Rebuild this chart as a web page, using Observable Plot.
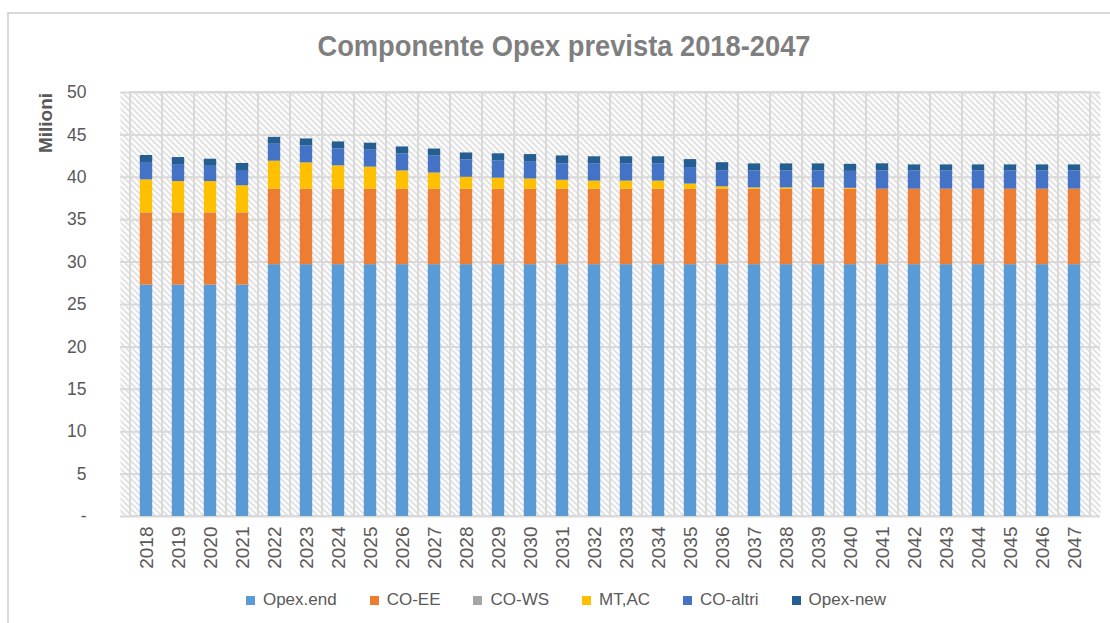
<!DOCTYPE html>
<html><head><meta charset="utf-8">
<script src="https://cdn.jsdelivr.net/npm/d3@7"></script>
<script src="https://cdn.jsdelivr.net/npm/@observablehq/plot@0.6"></script>
<style>
body{margin:0;background:#fff;}
#wrap{position:relative;width:1110px;height:623px;overflow:hidden;font-family:"Liberation Sans",Arial,sans-serif;color:#595959;}
#border{position:absolute;left:7px;top:12px;width:1200px;height:700px;border:2px solid #d9d9d9;box-sizing:border-box;}
#chart{position:absolute;left:0;top:0;}
#title{position:absolute;left:0;width:1128px;top:29px;text-align:center;font-weight:bold;font-size:30px;line-height:34px;color:#7f7f7f;transform:scaleX(0.91);transform-origin:564px 0;}
#ylab{position:absolute;left:46px;top:123px;transform:translate(-50%,-50%) rotate(-90deg);font-weight:bold;font-size:19px;color:#595959;white-space:nowrap;}
#legend{position:absolute;left:0;width:1132px;top:590px;display:flex;justify-content:center;gap:33px;font-size:17px;line-height:20px;color:#595959;}
.item{display:flex;align-items:center;gap:8px;}
.sw{width:9px;height:9px;display:inline-block;}
</style>
</head><body>
<div id="wrap">
  <div id="border"></div>
  <div id="chart"></div>
  <div id="title">Componente Opex prevista 2018-2047</div>
  <div id="ylab">Milioni</div>
  <div id="legend"></div>
</div>
<script>
const years = ["2018","2019","2020","2021","2022","2023","2024","2025","2026","2027","2028","2029","2030","2031","2032","2033","2034","2035","2036","2037","2038","2039","2040","2041","2042","2043","2044","2045","2046","2047"];
const opexEnd = [27.3,27.3,27.3,27.3,29.7,29.7,29.7,29.7,29.7,29.7,29.7,29.7,29.7,29.7,29.7,29.7,29.7,29.7,29.7,29.7,29.7,29.7,29.7,29.7,29.7,29.7,29.7,29.7,29.7,29.7];
const coEE = [8.5,8.5,8.5,8.5,8.9,8.9,8.9,8.9,8.9,8.9,8.9,8.9,8.9,8.9,8.9,8.9,8.9,8.9,8.9,8.9,8.9,8.9,8.9,8.9,8.9,8.9,8.9,8.9,8.9,8.9];
const coWS = [0,0,0,0,0,0,0,0,0,0,0,0,0,0,0,0,0,0,0,0,0,0,0,0,0,0,0,0,0,0];
const mtAc = [3.9,3.7,3.7,3.2,3.3,3.1,2.75,2.6,2.15,1.9,1.4,1.3,1.2,1.05,0.95,0.95,0.95,0.6,0.28,0.15,0.15,0.15,0.1,0,0,0,0,0,0,0];
const coAltri = [2.05,2.0,1.8,1.8,2.0,2.0,2.0,2.0,2.0,2.0,2.05,2.05,2.05,1.93,2.05,2.05,2.05,1.95,1.9,2.0,2.0,2.0,2.0,2.16,2.16,2.16,2.16,2.16,2.16,2.16];
const opexNew = [0.82,0.83,0.83,0.83,0.81,0.82,0.82,0.82,0.83,0.83,0.82,0.82,0.83,0.94,0.82,0.82,0.82,0.94,0.94,0.83,0.83,0.83,0.83,0.83,0.7,0.7,0.7,0.7,0.7,0.7];
const seriesNames = ["Opex.end","CO-EE","CO-WS","MT,AC","CO-altri","Opex-new"];
const seriesColors = ["#5b9bd5","#ed7d31","#a5a5a5","#ffc000","#4472c4","#255e91"];
const seriesValues = [opexEnd, coEE, coWS, mtAc, coAltri, opexNew];
const yTicks = [0,5,10,15,20,25,30,35,40,45,50];

const data = seriesNames.flatMap((s, i) => years.map((y, j) => ({year: y, series: s, value: seriesValues[i][j]})));

const plot = Plot.plot({
  width: 1110, height: 623,
  marginLeft: 120, marginRight: 10, marginTop: 92, marginBottom: 107,
  style: {background: "transparent", fontFamily: "'Liberation Sans', Arial, sans-serif", color: "#595959"},
  x: {domain: years, padding: 0, label: null},
  y: {domain: [0, 50], label: null},
  color: {domain: seriesNames, range: seriesColors},
  marks: [
    Plot.frame({fill: "url(#hatch)", stroke: null}),
    Plot.gridY(yTicks, {stroke: "#d9d9d9", strokeWidth: 2, strokeOpacity: 1}),
    Plot.barY(years, {x: d => d, y1: () => 0, y2: () => 50, fill: "none", stroke: "#d9d9d9", strokeWidth: 2}),
    Plot.barY(data, {x: "year", y: "value", fill: "series", insetLeft: 9.8, insetRight: 9.8}),
    Plot.axisY(yTicks, {tickSize: 0, tickPadding: 34, tickFormat: d => d === 0 ? "-" : String(d), fontSize: 17.5, fill: "#595959"}),
    Plot.axisX({tickSize: 0, tickRotate: -90, tickPadding: 10, fontSize: 19, fill: "#595959"})
  ]
});
d3.select(plot).insert("defs", ":first-child").html(
  '<pattern id="hatch" patternUnits="userSpaceOnUse" width="6" height="6">' +
  '<rect width="6" height="6" fill="#ffffff"/>' +
  '<path d="M-1,-1 L7,7 M-1,5 L1,7 M5,-1 L7,1" stroke="#d2d2d2" stroke-width="1.3"/></pattern>');
document.getElementById("chart").appendChild(plot);

const legend = d3.select("#legend");
seriesNames.forEach((s, i) => {
  const it = legend.append("div").attr("class", "item");
  it.append("span").attr("class", "sw").style("background", seriesColors[i]);
  it.append("span").text(s);
});
</script>
</body></html>
